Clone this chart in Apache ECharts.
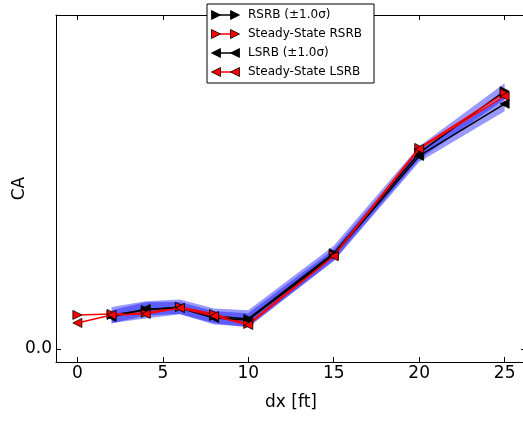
<!DOCTYPE html>
<html>
<head>
<meta charset="utf-8">
<script src="https://cdn.jsdelivr.net/npm/echarts@6/dist/echarts.min.js"></script>
<style>
  html, body { margin: 0; padding: 0; background: #fff; }
  #chart { width: 523px; height: 423px; }
</style>
</head>
<body>
<div id="chart"></div>
<script>
// dx positions
const sampleDx = [2, 4, 6, 8, 10, 15, 20, 25];
const steadyDx = [0, 2, 4, 6, 8, 10, 15, 20, 25];

// CA values
const rsrb       = [0.102, 0.117, 0.126, 0.099, 0.090, 0.287, 0.587, 0.772];
const rsrbSigma  = [0.024, 0.026, 0.022, 0.022, 0.026, 0.022, 0.020, 0.024];
const lsrb       = [0.096, 0.120, 0.123, 0.093, 0.087, 0.281, 0.578, 0.734];
const lsrbSigma  = [0.020, 0.020, 0.018, 0.020, 0.020, 0.018, 0.018, 0.022];
const ssRsrb     = [0.102, 0.105, 0.108, 0.126, 0.105, 0.075, 0.281, 0.602, 0.766];
const ssLsrb     = [0.078, 0.102, 0.105, 0.123, 0.099, 0.072, 0.278, 0.599, 0.757];

const xTicks = [0, 5, 10, 15, 20, 25];
const yTicks = [0];

const legendItems = [
    { name: 'RSRB (\u00b11.0\u03c3)', color: '#000000', dir: 'right' },
    { name: 'Steady-State RSRB', color: '#ff0000', dir: 'right' },
    { name: 'LSRB (\u00b11.0\u03c3)', color: '#000000', dir: 'left' },
    { name: 'Steady-State LSRB', color: '#ff0000', dir: 'left' }
];

const FONT = 'DejaVu Sans';
const RIGHT = -90, LEFT = 90;

function pairs(xs, ys) {
    return xs.map((x, i) => [x, ys[i]]);
}

function bandSeries(xs, ys, sig) {
    const pts = xs.map((x, i) => [x, ys[i] - sig[i], ys[i] + sig[i]]);
    return {
        type: 'custom',
        data: pts,
        silent: true,
        z: 1,
        renderItem: (params, api) => {
            if (params.dataIndexInside !== 0) return;
            const upper = pts.map(p => api.coord([p[0], p[2]]));
            const lower = pts.map(p => api.coord([p[0], p[1]])).reverse();
            return {
                type: 'polygon',
                shape: { points: upper.concat(lower) },
                style: { fill: 'rgba(0,0,255,0.4)', stroke: null }
            };
        }
    };
}

function lineSeries(name, xs, ys, color, rot, z) {
    return {
        name: name,
        type: 'line',
        data: pairs(xs, ys),
        symbol: 'triangle',
        symbolSize: [9, 9],
        symbolRotate: rot,
        z: z,
        lineStyle: { color: color, width: 1.5 },
        itemStyle: { color: color, borderColor: '#000', borderWidth: 0.8 },
        emphasis: { disabled: true },
        animation: false
    };
}

// legend drawn by hand, matplotlib style (two markers per row)
function legendGraphic() {
    const x0 = 207, y0 = 4, w = 167, h = 79;
    const els = [{
        type: 'rect',
        shape: { x: x0, y: y0, width: w, height: h },
        style: { fill: '#fff', stroke: '#000', lineWidth: 1 },
        z: 100
    }];
    legendItems.forEach((it, i) => {
        const cy = 15 + 19 * i;
        els.push({
            type: 'line',
            shape: { x1: 214, y1: cy, x2: 237, y2: cy },
            style: { stroke: it.color, lineWidth: 1.5 },
            z: 101
        });
        [216, 235].forEach(cx => {
            const pts = it.dir === 'right'
                ? [[cx - 4.5, cy - 4.5], [cx + 4.5, cy], [cx - 4.5, cy + 4.5]]
                : [[cx + 4.5, cy - 4.5], [cx - 4.5, cy], [cx + 4.5, cy + 4.5]];
            els.push({
                type: 'polygon',
                shape: { points: pts },
                style: { fill: it.color, stroke: '#000', lineWidth: 0.8 },
                z: 102
            });
        });
        els.push({
            type: 'text',
            x: 248, y: cy,
            style: {
                text: it.name, fill: '#000', font: '12px "' + FONT + '"',
                verticalAlign: 'middle', textAlign: 'left'
            },
            z: 102
        });
    });
    return els;
}

const chart = echarts.init(document.getElementById('chart'), null, { renderer: 'canvas' });

const axisBase = {
    type: 'value',
    splitLine: { show: false },
    axisLine: { show: true, onZero: false, lineStyle: { color: '#000', width: 1 } }
};

const option = {
    backgroundColor: '#fff',
    animation: false,
    grid: { left: 56, top: 15, width: 470, height: 347, containLabel: false, outerBoundsMode: 'none' },
    xAxis: [
        Object.assign({}, axisBase, {
            position: 'bottom',
            min: -1.25, max: 26.25,
            name: 'dx [ft]', nameLocation: 'middle', nameGap: 32,
            nameTextStyle: { fontFamily: FONT, fontSize: 17, color: '#000' },
            axisTick: { inside: true, length: 5, customValues: xTicks, lineStyle: { color: '#000' } },
            axisLabel: { customValues: xTicks, fontFamily: FONT, fontSize: 17, color: '#000', margin: 3 }
        }),
        Object.assign({}, axisBase, {
            position: 'top',
            min: -1.25, max: 26.25,
            axisTick: { inside: true, length: 5, customValues: xTicks, lineStyle: { color: '#000' } },
            axisLabel: { show: false }
        })
    ],
    yAxis: [
        Object.assign({}, axisBase, {
            position: 'left',
            min: -13 / 334, max: 1.0,
            name: 'CA', nameLocation: 'middle', nameGap: 28, nameMoveOverlap: false,
            nameTextStyle: { fontFamily: FONT, fontSize: 17, color: '#000' },
            axisTick: { inside: true, length: 5, customValues: yTicks, lineStyle: { color: '#000' } },
            axisLabel: {
                customValues: yTicks, fontFamily: FONT, fontSize: 17, color: '#000', margin: 4,
                formatter: v => v.toFixed(1)
            }
        }),
        Object.assign({}, axisBase, {
            position: 'right',
            min: -13 / 334, max: 1.0,
            axisTick: { inside: true, length: 5, customValues: yTicks, lineStyle: { color: '#000' } },
            axisLabel: { show: false }
        })
    ],
    series: [
        bandSeries(sampleDx, rsrb, rsrbSigma),
        bandSeries(sampleDx, lsrb, lsrbSigma),
        lineSeries('RSRB', sampleDx, rsrb, '#000000', RIGHT, 3),
        lineSeries('Steady-State RSRB', steadyDx, ssRsrb, '#ff0000', RIGHT, 4),
        lineSeries('LSRB', sampleDx, lsrb, '#000000', LEFT, 5),
        lineSeries('Steady-State LSRB', steadyDx, ssLsrb, '#ff0000', LEFT, 6)
    ],
    graphic: legendGraphic()
};

chart.setOption(option);
</script>
</body>
</html>
